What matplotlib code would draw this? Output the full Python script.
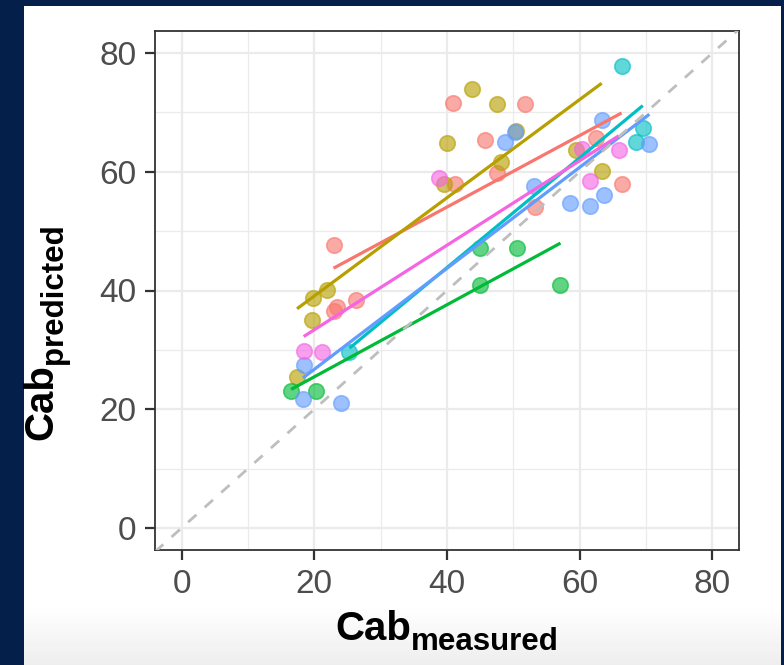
import numpy as np
import matplotlib.pyplot as plt

plt.rcParams['font.family'] = ['Liberation Sans', 'DejaVu Sans']

# measured / predicted Cab, one pair of lists per group
red_x = [22.9, 23.4, 22.9, 26.3, 40.9, 51.7, 45.7, 41.2, 47.5, 62.5, 66.3, 53.2]
red_y = [47.6, 37.2, 36.6, 38.4, 71.5, 71.4, 65.3, 58.0, 59.8, 65.6, 57.9, 54.1]

olive_x = [19.8, 21.9, 19.7, 17.4, 43.7, 47.5, 40.0, 39.5, 48.2, 59.5, 63.3, 50.4]
olive_y = [38.8, 40.1, 35.0, 25.4, 73.9, 71.4, 64.9, 57.9, 61.7, 63.7, 60.2, 66.9]

green_x = [16.5, 20.2, 45.0, 50.6, 45.0, 57.1]
green_y = [23.1, 23.1, 47.1, 47.1, 40.9, 40.9]

cyan_x = [25.3, 66.3, 68.5, 69.5]
cyan_y = [29.7, 77.8, 65.0, 67.3]

blue_x = [18.4, 18.3, 24.0, 48.7, 50.2, 63.4, 70.5, 53.1, 58.6, 61.6, 63.6]
blue_y = [27.4, 21.8, 21.1, 65.0, 66.7, 68.7, 64.6, 57.6, 54.8, 54.2, 56.1]

pink_x = [38.8, 18.4, 21.2, 60.4, 65.9, 61.5]
pink_y = [58.9, 29.8, 29.7, 63.9, 63.6, 58.5]

groups = [
    (red_x, red_y, '#F8766D'),
    (olive_x, olive_y, '#B79F00'),
    (green_x, green_y, '#00BA38'),
    (cyan_x, cyan_y, '#00BFC4'),
    (blue_x, blue_y, '#619CFF'),
    (pink_x, pink_y, '#F564E3'),
]
ticks = [0, 20, 40, 60, 80]

W, H = 784, 665
fig = plt.figure(figsize=(W / 100, H / 100), dpi=100, facecolor='#04204a')

# white card behind the plot, fading to light grey at the bottom
bg = fig.add_axes([24 / W, 0, (781 - 24) / W, 1 - 6 / H], zorder=-1)
grad = np.ones((200, 1))
grad[182:, 0] = np.linspace(1.0, 0.93, 18)
bg.imshow(grad, cmap='gray', vmin=0, vmax=1, aspect='auto', extent=[0, 1, 0, 1])
bg.set_axis_off()

ax = fig.add_axes([155 / W, 1 - 550 / H, (739 - 155) / W, (550 - 31) / H])
ax.set_facecolor('white')

for gx, gy, col in groups:
    ax.scatter(gx, gy, s=125, color=col, alpha=0.62, edgecolors=col,
               linewidths=1.2, zorder=3)

# linear fit per group over its own x range
for gx, gy, col in groups:
    k, b = np.polyfit(gx, gy, 1)
    xs = np.array([min(gx), max(gx)])
    ax.plot(xs, k * xs + b, color=col, lw=2.3, zorder=4, solid_capstyle='butt')

ax.plot([-4, 84], [-4, 84], color='#BEBEBE', lw=2.0, dashes=(4, 4), zorder=5)

ax.set_xlim(-4, 84)
ax.set_ylim(-3.7, 83.7)
ax.set_xticks(ticks)
ax.set_yticks(ticks)
ax.set_xticks([10, 30, 50, 70], minor=True)
ax.set_yticks([10, 30, 50, 70], minor=True)
ax.grid(which='major', color='#EBEBEB', lw=1.6)
ax.grid(which='minor', color='#EBEBEB', lw=0.9)
ax.set_axisbelow(True)

for sp in ax.spines.values():
    sp.set_color('#333333')
    sp.set_linewidth(1.3)
ax.tick_params(which='major', length=7.5, width=1.6, color='#333333',
               labelsize=24, labelcolor='#4D4D4D', pad=6)
ax.tick_params(which='minor', length=0)

# axis titles: bold "Cab" with a bold subscript, built from two texts
r = fig.canvas.get_renderer()
main_kw = dict(fontsize=29, fontweight='bold', color='black')
sub_kw = dict(fontsize=22.5, fontweight='bold', color='black')

xt = fig.text(335 / W, 1 - 640 / H, 'Cab', ha='left', va='baseline', **main_kw)
xw = xt.get_window_extent(r).width
fig.text((335 + xw) / W, 1 - 650 / H, 'measured', ha='left', va='baseline', **sub_kw)

yt = fig.text(52 / W, 1 - 440 / H, 'Cab', ha='left', va='baseline',
              rotation=90, rotation_mode='anchor', **main_kw)
yh = yt.get_window_extent(r).height
fig.text(62 / W, 1 - (440 - yh) / H, 'predicted', ha='left', va='baseline',
         rotation=90, rotation_mode='anchor', **sub_kw)

fig.savefig('out.png', dpi=100, facecolor=fig.get_facecolor())
